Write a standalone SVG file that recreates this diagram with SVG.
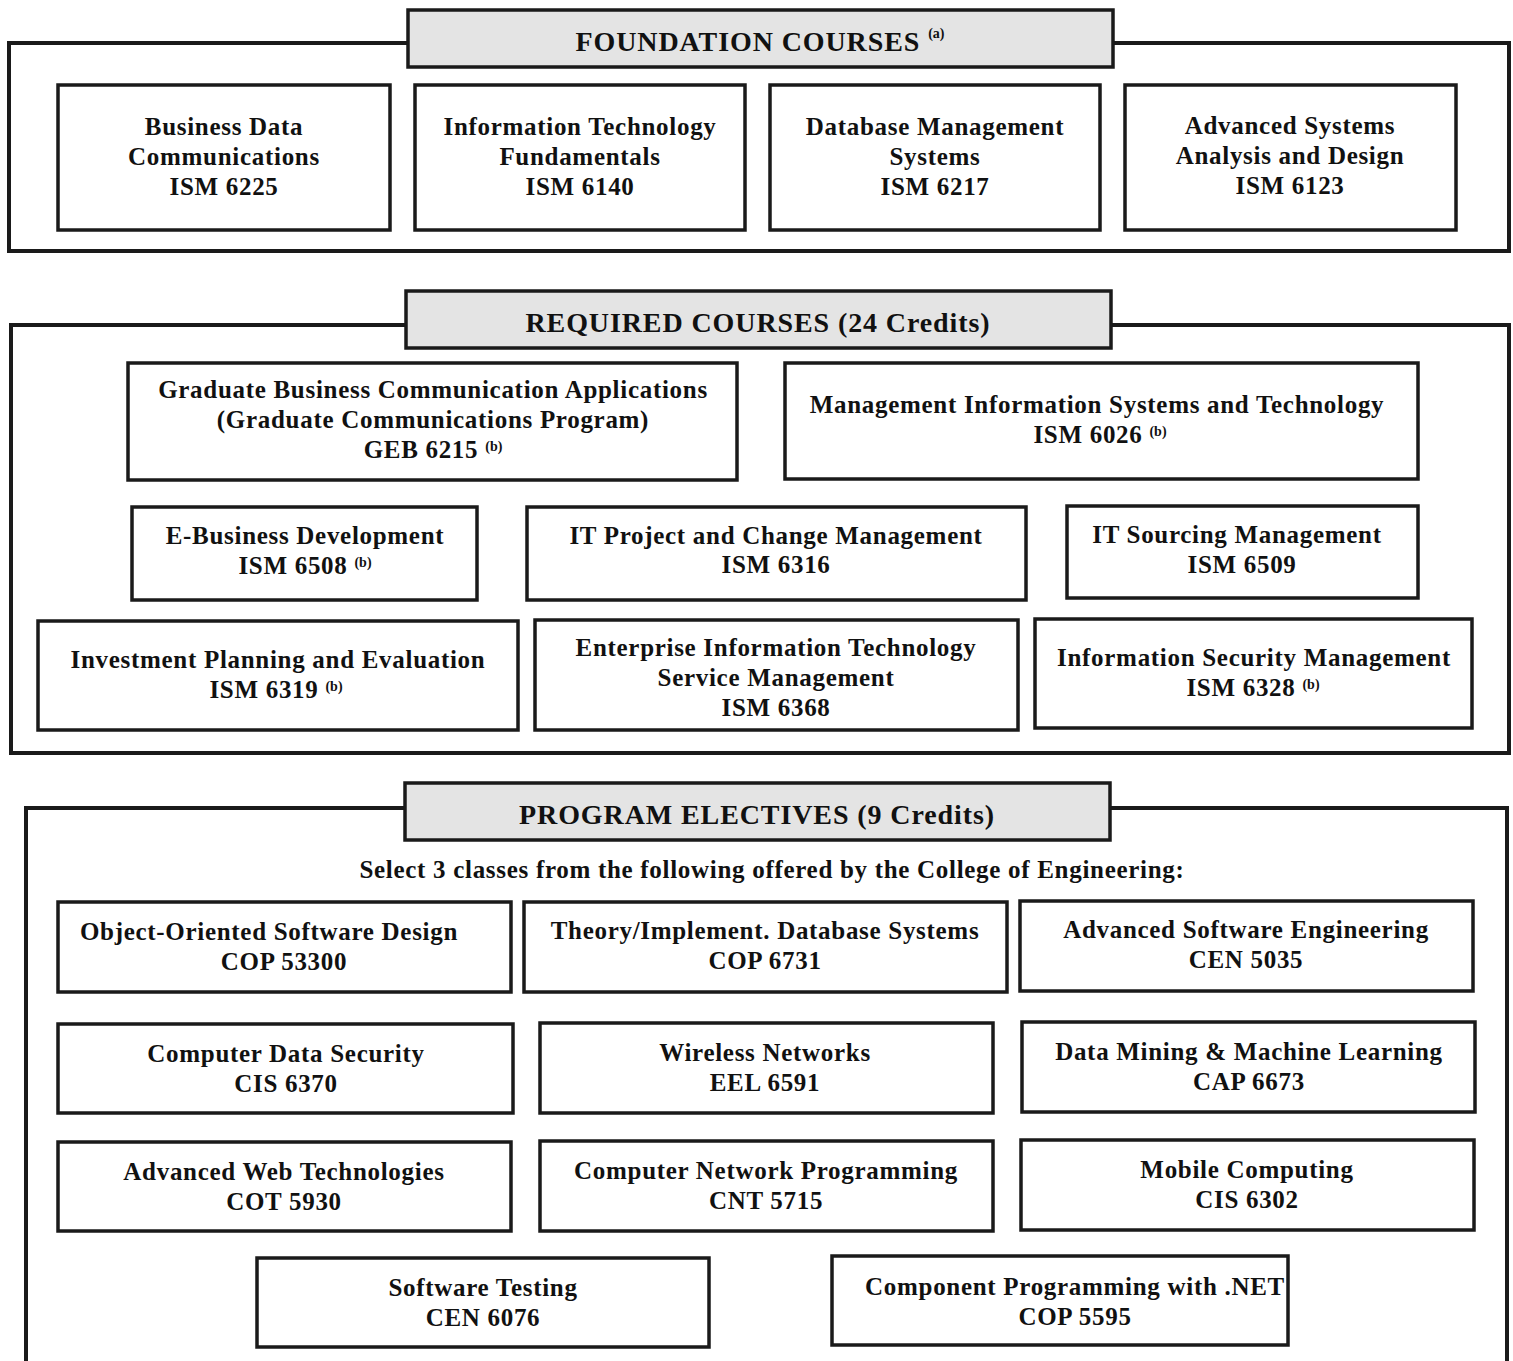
<svg xmlns="http://www.w3.org/2000/svg" width="1513" height="1361" viewBox="0 0 1513 1361">
<defs>
<style>
.frame{fill:none;stroke:#1a1a1a;stroke-width:4}
.hdr{fill:#e4e4e4;stroke:#1a1a1a;stroke-width:3.5}
.box{fill:#fff;stroke:#1a1a1a;stroke-width:3.5}
text{font-family:"Liberation Serif","Times New Roman",serif;fill:#111;text-anchor:middle}
.h{font-size:28px;font-weight:bold;letter-spacing:0.9px}
.t{font-size:25px;font-weight:bold;letter-spacing:0.7px}
.sup{font-size:14px;font-weight:bold;letter-spacing:0}
</style>
</defs>
<rect width="1513" height="1361" fill="#fff"/>

<g id="connectors"></g>

<!-- Section 1 -->
<g id="foundation">
<rect class="frame" x="9" y="43" width="1500" height="208"/>
<g id="foundation-header">
<rect class="hdr" x="408" y="10" width="705" height="57"/>
<text class="h" x="760" y="51">FOUNDATION COURSES <tspan class="sup" dy="-13">(a)</tspan></text>
</g>
<g id="ism6225"><rect class="box" x="58" y="85" width="332" height="145"/>
<text class="t" x="224" y="135">Business Data</text><text class="t" x="224" y="165">Communications</text><text class="t" x="224" y="195">ISM 6225</text></g>
<g id="ism6140"><rect class="box" x="415" y="85" width="330" height="145"/>
<text class="t" x="580" y="135">Information Technology</text><text class="t" x="580" y="165">Fundamentals</text><text class="t" x="580" y="195">ISM 6140</text></g>
<g id="ism6217"><rect class="box" x="770" y="85" width="330" height="145"/>
<text class="t" x="935" y="135">Database Management</text><text class="t" x="935" y="165">Systems</text><text class="t" x="935" y="195">ISM 6217</text></g>
<g id="ism6123"><rect class="box" x="1125" y="85" width="331" height="145"/>
<text class="t" x="1290" y="134">Advanced Systems</text><text class="t" x="1290" y="164">Analysis and Design</text><text class="t" x="1290" y="194">ISM 6123</text></g>
</g>

<!-- Section 2 -->
<g id="required">
<rect class="frame" x="11" y="325" width="1498" height="428"/>
<g id="required-header">
<rect class="hdr" x="406" y="291" width="705" height="57"/>
<text class="h" x="758" y="332">REQUIRED COURSES (24 Credits)</text>
</g>
<g id="geb6215"><rect class="box" x="128" y="363" width="609" height="117"/>
<text class="t" x="433" y="398">Graduate Business Communication Applications</text>
<text class="t" x="433" y="428">(Graduate Communications Program)</text>
<text class="t" x="433" y="458">GEB 6215 <tspan class="sup" dy="-7">(b)</tspan></text></g>
<g id="ism6026"><rect class="box" x="785" y="363" width="633" height="116"/>
<text class="t" x="1097" y="413">Management Information Systems and Technology</text>
<text class="t" x="1100" y="443">ISM 6026 <tspan class="sup" dy="-7">(b)</tspan></text></g>
<g id="ism6508"><rect class="box" x="132" y="507" width="345" height="93"/>
<text class="t" x="305" y="544">E-Business Development</text>
<text class="t" x="305" y="574">ISM 6508 <tspan class="sup" dy="-7">(b)</tspan></text></g>
<g id="ism6316"><rect class="box" x="527" y="507" width="499" height="93"/>
<text class="t" x="776" y="544">IT Project and Change Management</text>
<text class="t" x="776" y="573">ISM 6316</text></g>
<g id="ism6509"><rect class="box" x="1067" y="506" width="351" height="92"/>
<text class="t" x="1237" y="543">IT Sourcing Management</text>
<text class="t" x="1242" y="573">ISM 6509</text></g>
<g id="ism6319"><rect class="box" x="38" y="621" width="480" height="109"/>
<text class="t" x="278" y="668">Investment Planning and Evaluation</text>
<text class="t" x="276" y="698">ISM 6319 <tspan class="sup" dy="-7">(b)</tspan></text></g>
<g id="ism6368"><rect class="box" x="535" y="620" width="483" height="110"/>
<text class="t" x="776" y="656">Enterprise Information Technology</text>
<text class="t" x="776" y="686">Service Management</text>
<text class="t" x="776" y="716">ISM 6368</text></g>
<g id="ism6328"><rect class="box" x="1035" y="619" width="437" height="109"/>
<text class="t" x="1254" y="666">Information Security Management</text>
<text class="t" x="1253" y="696">ISM 6328 <tspan class="sup" dy="-7">(b)</tspan></text></g>
</g>

<!-- Section 3 -->
<g id="electives">
<path class="frame" d="M26,1361 V808 H1507 V1361"/>
<g id="electives-header">
<rect class="hdr" x="405" y="783" width="705" height="57"/>
<text class="h" x="757" y="824">PROGRAM ELECTIVES (9 Credits)</text>
</g>
<text class="t" x="772" y="878">Select 3 classes from the following offered by the College of Engineering:</text>
<g id="cop53300"><rect class="box" x="58" y="902" width="453" height="90"/>
<text class="t" x="269" y="940">Object-Oriented Software Design</text><text class="t" x="284" y="970">COP 53300</text></g>
<g id="cop6731"><rect class="box" x="524" y="902" width="483" height="90"/>
<text class="t" x="765" y="939">Theory/Implement. Database Systems</text><text class="t" x="765" y="969">COP 6731</text></g>
<g id="cen5035"><rect class="box" x="1020" y="901" width="453" height="90"/>
<text class="t" x="1246" y="938">Advanced Software Engineering</text><text class="t" x="1246" y="968">CEN 5035</text></g>
<g id="cis6370"><rect class="box" x="58" y="1024" width="455" height="89"/>
<text class="t" x="286" y="1062">Computer Data Security</text><text class="t" x="286" y="1092">CIS 6370</text></g>
<g id="eel6591"><rect class="box" x="540" y="1023" width="453" height="90"/>
<text class="t" x="765" y="1061">Wireless Networks</text><text class="t" x="765" y="1091">EEL 6591</text></g>
<g id="cap6673"><rect class="box" x="1022" y="1022" width="453" height="90"/>
<text class="t" x="1249" y="1060">Data Mining &amp; Machine Learning</text><text class="t" x="1249" y="1090">CAP 6673</text></g>
<g id="cot5930"><rect class="box" x="58" y="1142" width="453" height="89"/>
<text class="t" x="284" y="1180">Advanced Web Technologies</text><text class="t" x="284" y="1210">COT 5930</text></g>
<g id="cnt5715"><rect class="box" x="540" y="1141" width="453" height="90"/>
<text class="t" x="766" y="1179">Computer Network Programming</text><text class="t" x="766" y="1209">CNT 5715</text></g>
<g id="cis6302"><rect class="box" x="1021" y="1140" width="453" height="90"/>
<text class="t" x="1247" y="1178">Mobile Computing</text><text class="t" x="1247" y="1208">CIS 6302</text></g>
<g id="cen6076"><rect class="box" x="257" y="1258" width="452" height="89"/>
<text class="t" x="483" y="1296">Software Testing</text><text class="t" x="483" y="1326">CEN 6076</text></g>
<g id="cop5595"><rect class="box" x="832" y="1256" width="456" height="89"/>
<text class="t" x="1075" y="1295">Component Programming with .NET</text><text class="t" x="1075" y="1325">COP 5595</text></g>
</g>
</svg>
